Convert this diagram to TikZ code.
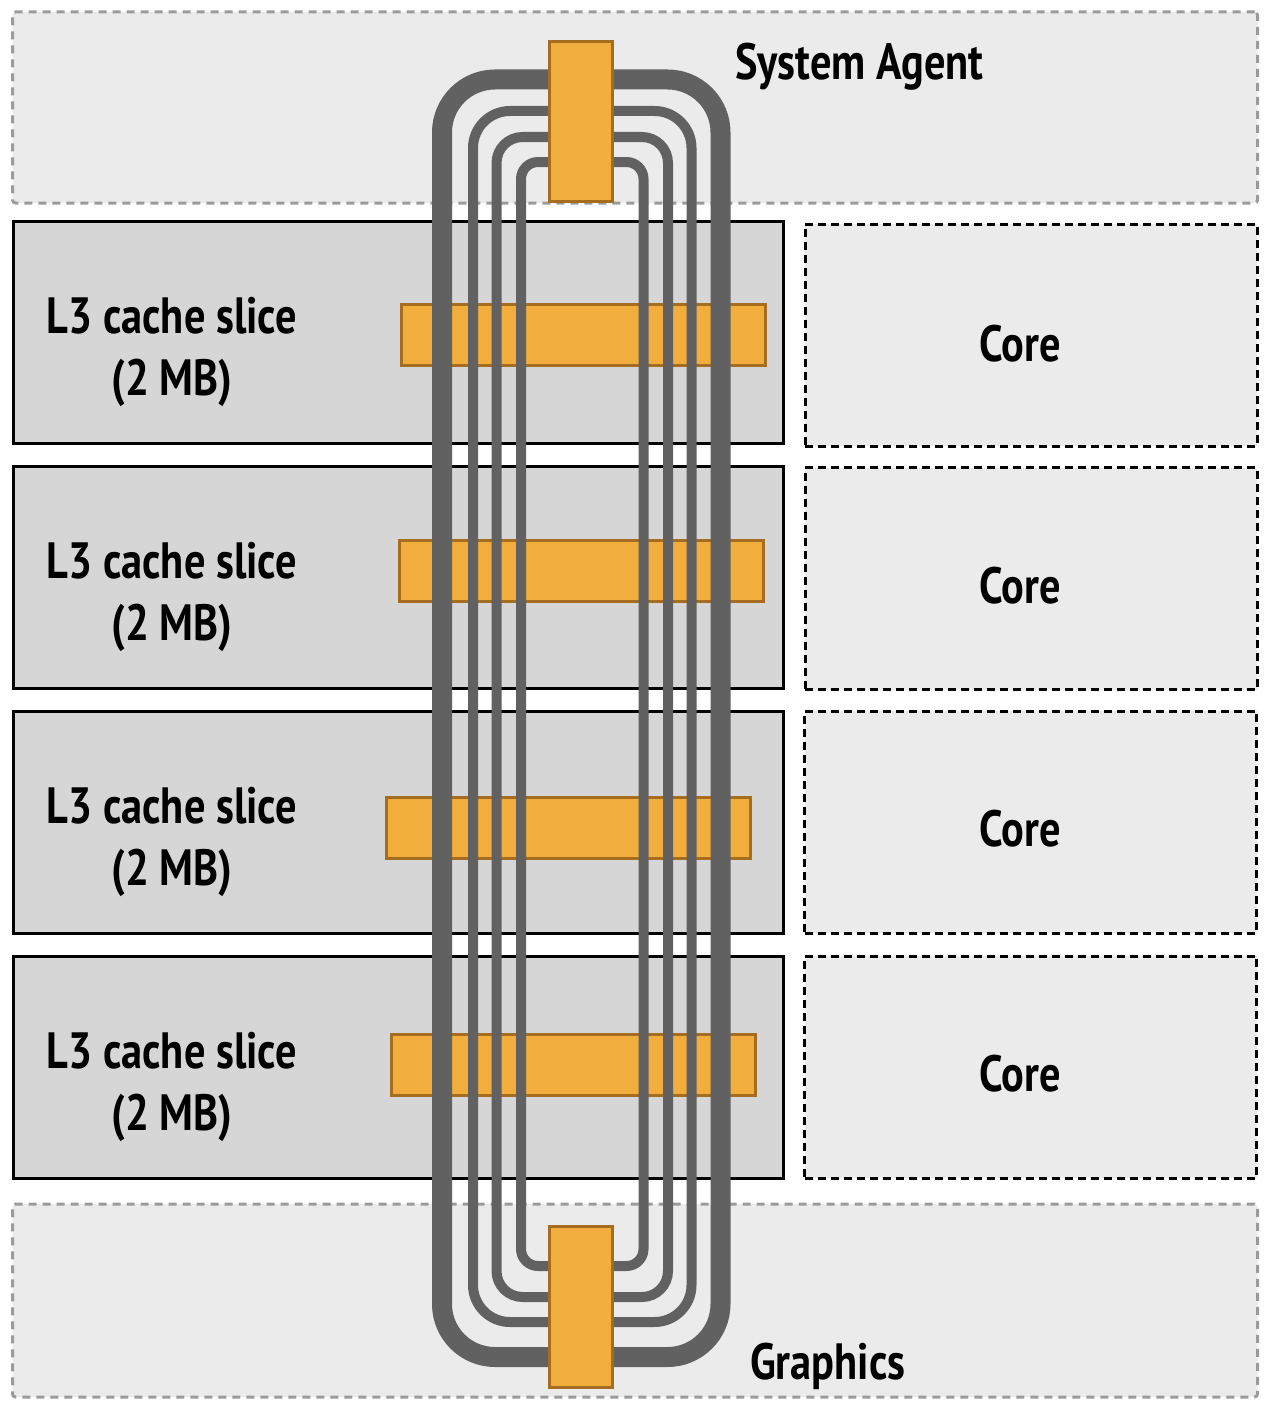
\documentclass[tikz,border=0pt]{standalone}
\usepackage{fontspec}
\setmainfont{PT Sans}[FakeStretch=0.83]
\usetikzlibrary{positioning}

\definecolor{ringgray}{HTML}{616161}
\definecolor{slicefill}{HTML}{D6D6D6}
\definecolor{panelfill}{HTML}{EBEBEB}
\definecolor{dashgray}{HTML}{9B9B9B}
\definecolor{stopfill}{HTML}{F2AE3C}
\definecolor{stopedge}{HTML}{A66D20}

\begin{document}
\begin{tikzpicture}[
    x=1pt, y=-1pt,
    agentbox/.style={draw=dashgray, fill=panelfill, line width=3pt, dash pattern=on 8pt off 6pt, rounded corners=3pt, minimum width=1245pt, minimum height=191pt, inner sep=0},
    slicebox/.style={draw=black, fill=slicefill, line width=3pt, minimum width=770pt, minimum height=222pt, inner sep=0},
    corebox/.style={draw=black, fill=panelfill, line width=3pt, dash pattern=on 8pt off 5pt, minimum width=452pt, minimum height=222pt, inner sep=0},
    stopbar/.style={draw=stopedge, fill=stopfill, line width=3pt, inner sep=0},
    ringline/.style={draw=ringgray, line width=10pt},
    lbl/.style={font=\bfseries\fontsize{51}{62}\selectfont, align=center, inner sep=0}
  ]
    \useasboundingbox (0,0) rectangle (1274,1410);
    % background panels
    \node[agentbox] (sa) at (635,107.5) {};
    \node[agentbox, minimum height=193pt] (gfx) at (635,1300.5) {};
    \node[slicebox] (l3a) at (398,332) {};
    \node[slicebox] (l3b) at (398,577) {};
    \node[slicebox] (l3c) at (398,822) {};
    \node[slicebox] (l3d) at (398,1067) {};
    \node[corebox] (corea) at (1031,335) {};
    \node[corebox] (coreb) at (1031,578.5) {};
    \node[corebox] (corec) at (1030.5,822) {};
    \node[corebox] (cored) at (1030.5,1067) {};
    % ring stops of the slices
    \node[stopbar, minimum width=364pt, minimum height=61pt] (stopa) at (583.5,335) {};
    \node[stopbar, minimum width=364pt, minimum height=61pt] (stopb) at (581.5,571) {};
    \node[stopbar, minimum width=364pt, minimum height=61pt] (stopc) at (568.5,828) {};
    \node[stopbar, minimum width=364pt, minimum height=61pt] (stopd) at (573.5,1065) {};
    % the ring
    \draw[ringline, line width=20pt, rounded corners=53pt] (442,79.5) rectangle (720.5,1357);
    \draw[ringline, rounded corners=37pt] (473,111) rectangle (691.5,1322);
    \draw[ringline, rounded corners=26pt] (496.5,137) rectangle (668,1297);
    \draw[ringline, rounded corners=17pt] (521,162) rectangle (643.5,1266);
    % ring stops of system agent and graphics
    \node[stopbar, minimum width=63pt, minimum height=160pt] (stopsa) at (581,121.5) {};
    \node[stopbar, minimum width=63pt, minimum height=161pt] (stopgfx) at (581,1307) {};
    % labels
    \node[lbl, anchor=west] (satxt) at (735,67) {System Agent};
    \node[lbl, anchor=west] (gfxtxt) at (750,1366) {Graphics};
    \node[lbl] (l3atxt) at (172,352) {L3 cache slice\\(2 MB)};
    \node[lbl] (l3btxt) at (172,597) {L3 cache slice\\(2 MB)};
    \node[lbl] (l3ctxt) at (172,842) {L3 cache slice\\(2 MB)};
    \node[lbl] (l3dtxt) at (172,1087) {L3 cache slice\\(2 MB)};
    \node[lbl] (coreatxt) at (1020,344) {Core};
    \node[lbl] (corebtxt) at (1020,586) {Core};
    \node[lbl] (corectxt) at (1020,829) {Core};
    \node[lbl] (coredtxt) at (1020,1074) {Core};
  \end{tikzpicture}
\end{document}
